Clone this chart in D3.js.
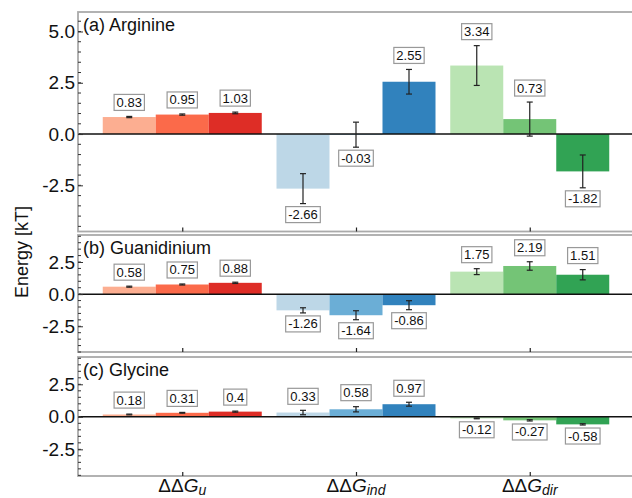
<!DOCTYPE html>
<html>
<head>
<meta charset="utf-8">
<script src="https://cdn.jsdelivr.net/npm/d3@7"></script>
<style>
  body { margin: 0; background: #fff; }
  text { font-family: "Liberation Sans", Arial, Helvetica, sans-serif; }
</style>
</head>
<body>
<div id="chart"></div>
<script>
// categories and panels
const categories = ["u", "ind", "dir"];
const panelTitles = ["(a) Arginine", "(b) Guanidinium", "(c) Glycine"];

// values per category (3 bars each) and their error bars
const arginineValues = [[0.83, 0.95, 1.03], [-2.66, -0.03, 2.55], [3.34, 0.73, -1.82]];
const arginineErrors = [[0.03, 0.03, 0.04], [0.73, 0.61, 0.60], [0.97, 0.83, 0.80]];
const guanidiniumValues = [[0.58, 0.75, 0.88], [-1.26, -1.64, -0.86], [1.75, 2.19, 1.51]];
const guanidiniumErrors = [[0.04, 0.04, 0.05], [0.20, 0.35, 0.35], [0.23, 0.33, 0.40]];
const glycineValues = [[0.18, 0.31, 0.40], [0.33, 0.58, 0.97], [-0.12, -0.27, -0.58]];
const glycineErrors = [[0.03, 0.03, 0.04], [0.17, 0.20, 0.15], [0.03, 0.05, 0.05]];

// y tick values per panel
const yTicksA = [-2.5, 0, 2.5, 5.0];
const yTicksBC = [-2.5, 0, 2.5];

// colours per category group
const colors = [
  ["#fcae91", "#fb6a4a", "#de2d26"],
  ["#bdd7e7", "#6baed6", "#3182bd"],
  ["#bae4b3", "#74c476", "#31a354"]
];

const width = 632, height = 498;
const svg = d3.select("#chart").append("svg")
  .attr("width", width).attr("height", height);

const left = 78, right = 634;
const x = d3.scalePoint().domain(categories).range([left, right]).padding(0.6);
const inner = d3.scaleBand().domain([0, 1, 2]).range([-79.5, 79.5]);

// panel layout
const panels = [
  { title: panelTitles[0], values: arginineValues, errors: arginineErrors, top: 12, bottom: 231.5, domain: [-4.75, 5.95], ticks: yTicksA },
  { title: panelTitles[1], values: guanidiniumValues, errors: guanidiniumErrors, top: 235, bottom: 352, domain: [-4.5, 4.6], ticks: yTicksBC },
  { title: panelTitles[2], values: glycineValues, errors: glycineErrors, top: 357, bottom: 476, domain: [-4.55, 4.6], ticks: yTicksBC }
];

panels.forEach((p, pi) => {
  const y = d3.scaleLinear().domain(p.domain).range([p.bottom, p.top]);
  const g = svg.append("g");

  // flatten bars
  const bars = [];
  categories.forEach((c, ci) => {
    p.values[ci].forEach((v, bi) => {
      bars.push({ cat: c, ci: ci, bi: bi, value: v, err: p.errors[ci][bi] });
    });
  });

  // Bars
  g.selectAll("rect.bar")
    .data(bars)
    .enter().append("rect")
      .attr("class", "bar")
      .attr("x", d => x(d.cat) + inner(d.bi))
      .attr("width", inner.bandwidth())
      .attr("y", d => y(Math.max(0, d.value)))
      .attr("height", d => Math.abs(y(d.value) - y(0)))
      .attr("fill", d => colors[d.ci][d.bi]);

  // zero line
  g.append("line")
    .attr("x1", left).attr("x2", right)
    .attr("y1", y(0)).attr("y2", y(0))
    .attr("stroke", "#111").attr("stroke-width", 1.5);

  // error bars
  const eb = g.selectAll("g.err").data(bars).enter().append("g")
    .attr("stroke", "#222").attr("stroke-width", 1.2);
  const cx = d => x(d.cat) + inner(d.bi) + inner.bandwidth() / 2;
  eb.append("line")
    .attr("x1", cx).attr("x2", cx)
    .attr("y1", d => y(d.value + d.err)).attr("y2", d => y(d.value - d.err));
  eb.append("line")
    .attr("x1", d => cx(d) - 3).attr("x2", d => cx(d) + 3)
    .attr("y1", d => y(d.value + d.err)).attr("y2", d => y(d.value + d.err));
  eb.append("line")
    .attr("x1", d => cx(d) - 3).attr("x2", d => cx(d) + 3)
    .attr("y1", d => y(d.value - d.err)).attr("y2", d => y(d.value - d.err));

  // value labels in boxes
  const boxH = 16;
  bars.forEach(d => {
    const boxTop = d.value >= 0 ? y(d.value + d.err) - 6 - boxH : y(d.value - d.err) + 3;
    const lg = g.append("g");
    const rect = lg.append("rect");
    const t = lg.append("text")
      .attr("x", cx(d)).attr("y", boxTop + 12.5)
      .attr("text-anchor", "middle")
      .attr("font-size", 13)
      .attr("fill", "#111")
      .text(String(d.value));
    const tw = t.node().getComputedTextLength();
    rect.attr("x", cx(d) - tw / 2 - 2.5).attr("y", boxTop)
      .attr("width", tw + 5).attr("height", boxH)
      .attr("fill", "#fff").attr("stroke", "#999").attr("stroke-width", 1.2);
  });

  // frame
  g.append("rect")
    .attr("x", left).attr("y", p.top)
    .attr("width", right - left).attr("height", p.bottom - p.top)
    .attr("fill", "none").attr("stroke", "#aaa").attr("stroke-width", 1.8);

  // y axis ticks (inside) with minor ticks
  const minor = d3.range(Math.ceil(p.domain[0] / 0.5) * 0.5, p.domain[1], 0.5);
  g.selectAll("line.minor").data(minor).enter().append("line")
    .attr("x1", left).attr("x2", left + 3)
    .attr("y1", d => y(d)).attr("y2", d => y(d))
    .attr("stroke", "#333").attr("stroke-width", 1);
  const yAxis = g.append("g")
    .attr("transform", `translate(${left},0)`)
    .call(d3.axisLeft(y).tickValues(p.ticks).tickSizeInner(-5).tickSizeOuter(0)
      .tickPadding(3).tickFormat(d => d.toFixed(1)));
  yAxis.select(".domain").remove();
  yAxis.selectAll("line").attr("stroke", "#333");
  yAxis.selectAll("text").attr("font-size", 19).attr("fill", "#111")
    .attr("font-family", "\"Liberation Sans\", Arial, sans-serif");

  // bottom x ticks (inside)
  const xAxis = g.append("g")
    .attr("transform", `translate(0,${p.bottom})`)
    .call(d3.axisBottom(x).tickSizeInner(-4).tickSizeOuter(0).tickFormat(""));
  xAxis.select(".domain").remove();
  xAxis.selectAll("line").attr("stroke", "#222").attr("stroke-width", 1.2);

  // panel title
  g.append("text")
    .attr("x", left + 5).attr("y", p.top + 19)
    .attr("font-size", 18).attr("fill", "#111")
    .text(p.title);

  // x labels on the last panel
  if (pi === panels.length - 1) {
    categories.forEach(c => {
      const t = svg.append("text")
        .attr("x", x(c)).attr("y", 492)
        .attr("text-anchor", "middle")
        .attr("font-size", 19).attr("fill", "#111");
      t.append("tspan").text("ΔΔ");
      t.append("tspan").attr("font-style", "italic").text("G");
      t.append("tspan").attr("font-style", "italic").attr("font-size", 14)
        .attr("dy", 3).text(c);
    });
  }
});

// y label
svg.append("text")
  .attr("transform", "translate(28,252) rotate(-90)")
  .attr("text-anchor", "middle")
  .attr("font-size", 18).attr("fill", "#111")
  .text("Energy [kT]");
</script>
</body>
</html>
